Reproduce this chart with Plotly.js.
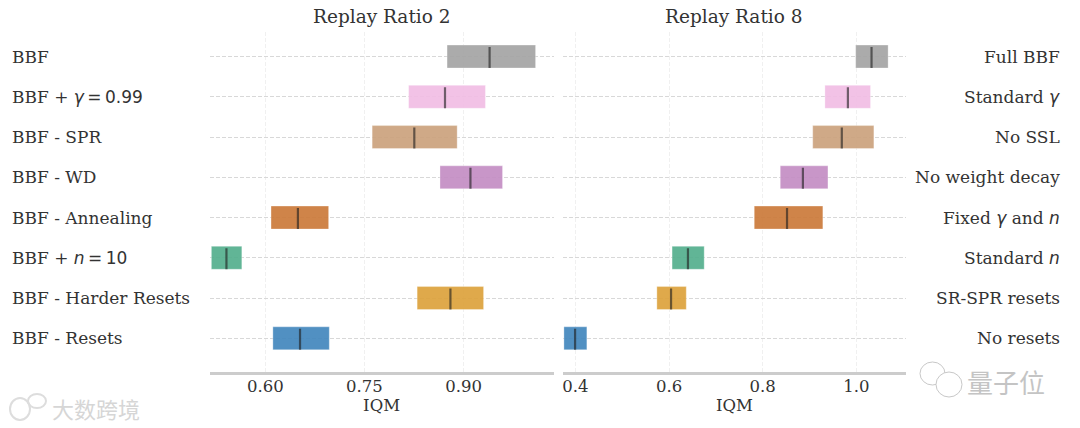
<!DOCTYPE html>
<html><head><meta charset="utf-8">
<script src="https://cdn.plot.ly/plotly-3.0.1.min.js"></script>
<style>html,body{margin:0;padding:0;background:#fff}#c{width:1080px;height:428px}</style>
</head><body><div id="c"></div>
<script>
const rows = [0,1,2,3,4,5,6,7];
const sans = t => `<span style="font-family:'DejaVu Sans'">${t}</span>`;
const leftLabels = ['BBF - Resets','BBF - Harder Resets','BBF + '+sans('<i>n</i>\u2009=\u200910'),'BBF - Annealing','BBF - WD','BBF - SPR','BBF + '+sans('<i>γ</i>\u2009=\u20090.99'),'BBF'];
const rightLabels = ['No resets','SR-SPR resets','Standard '+sans('<i>n</i>'),'Fixed '+sans('<i>γ</i>')+' and '+sans('<i>n</i>'),'No weight decay','No SSL','Standard '+sans('<i>γ</i>'),'Full BBF'];
const colors = ['rgba(66,135,189,0.92)','rgba(220,162,60,0.92)','rgba(84,175,141,0.92)','rgba(203,122,57,0.92)','rgba(195,141,195,0.92)','rgba(203,162,125,0.92)','rgba(241,189,228,0.92)','rgba(164,164,164,0.92)'];
const rr2Low  = [0.6113,0.8297,0.5182,0.6085,0.8643,0.7616,0.8168,0.8750];
const rr2High = [0.6967,0.9303,0.5643,0.6957,0.9590,0.8903,0.9331,1.0090];
const rr2Med  = [0.6524,0.8801,0.5410,0.6492,0.9104,0.8254,0.8719,0.9394];
const rr8Low  = [0.3755,0.5740,0.6065,0.7820,0.8375,0.9069,0.9329,0.9986];
const rr8High = [0.4245,0.6368,0.6751,0.9285,0.9394,1.0375,1.0303,1.0679];
const rr8Med  = [0.3993,0.6043,0.6404,0.8520,0.8859,0.9690,0.9820,1.0325];

function bars(lo,hi,xa,ya){
  return {type:'bar',orientation:'h',y:rows,x:hi.map((h,i)=>h-lo[i]),base:lo,width:0.57,
    marker:{color:colors,line:{width:1,color:'rgba(255,255,255,0.3)'}},xaxis:xa,yaxis:ya,showlegend:false,hoverinfo:'skip'};
}
function meds(m,xa,ya){
  const x=[],y=[];
  m.forEach((v,i)=>{x.push(v,v,null);y.push(rows[i]-0.285,rows[i]+0.235,null);});
  return {type:'scatter',mode:'lines',x,y,line:{color:'rgba(30,30,30,0.62)',width:2.2},xaxis:xa,yaxis:ya,showlegend:false,hoverinfo:'skip'};
}
const F='"DejaVu Serif"';
const txt='#333333';
const xax=(dom,range,vals,text)=>({domain:dom,range,tickmode:'array',tickvals:vals,ticktext:text,
  showgrid:true,gridcolor:'#f0f0f0',griddash:'4px,2px',gridwidth:1,zeroline:false,showline:true,linecolor:'#cccccc',linewidth:2.5,
  ticks:'',ticklabelstandoff:-3,tickfont:{family:F,size:16.5,color:txt},title:{text:'IQM',font:{family:F,size:16.5,color:txt},standoff:5},automargin:false});
const yax=(anchor)=>({domain:[(428-372.3)/428,(428-32)/428],range:[-0.845,7.61],anchor,tickmode:'array',tickvals:rows,
  showticklabels:false,showgrid:true,gridcolor:'#d8d8d8',griddash:'4px,2px',gridwidth:1,zeroline:false,showline:false,ticks:''});
const ann=[];
rows.forEach(i=>{
  ann.push({text:leftLabels[i],xref:'paper',yref:'y',x:10/1080,y:i,xanchor:'left',yanchor:'middle',showarrow:false,font:{family:F,size:17,color:txt}});
  ann.push({text:rightLabels[i],xref:'paper',yref:'y',x:1062/1080,y:i,xanchor:'right',yanchor:'middle',showarrow:false,font:{family:F,size:17,color:txt}});
});
ann.push({text:'Replay Ratio 2',xref:'paper',yref:'paper',x:381.5/1080,y:(428-16)/428,xanchor:'center',yanchor:'middle',showarrow:false,font:{family:F,size:18.5,color:txt}});
ann.push({text:'Replay Ratio 8',xref:'paper',yref:'paper',x:734/1080,y:(428-16)/428,xanchor:'center',yanchor:'middle',showarrow:false,font:{family:F,size:18.5,color:txt}});
ann.push({text:'量子位',xref:'paper',yref:'paper',x:1006/1080,y:(428-381)/428,xanchor:'center',yanchor:'middle',showarrow:false,font:{family:'"Noto Sans CJK SC"',size:26,color:'#c4c4c4'}});
ann.push({text:'大数跨境',xref:'paper',yref:'paper',x:96/1080,y:(428-408)/428,xanchor:'center',yanchor:'middle',showarrow:false,font:{family:'"Noto Sans CJK SC"',size:22,color:'#d6d6d6'}});
const layout={width:1080,height:428,margin:{l:0,r:0,t:0,b:0,autoexpand:false},paper_bgcolor:'#fff',plot_bgcolor:'#fff',barmode:'overlay',
  xaxis:xax([209.6/1080,553.6/1080],[0.5155,1.0363],[0.6,0.75,0.9],['0.60','0.75','0.90']),
  xaxis2:xax([562.8/1080,906/1080],[0.3731,1.1061],[0.4,0.6,0.8,1.0],['0.4','0.6','0.8','1.0']),
  yaxis:yax('x'),yaxis2:yax('x2'),annotations:ann,
  shapes:[
   {type:'circle',xref:'paper',yref:'paper',x0:920/1080,x1:945/1080,y0:(428-385)/428,y1:(428-362)/428,line:{color:'#c8c8c8',width:1},fillcolor:'rgba(255,255,255,0)'},
   {type:'circle',xref:'paper',yref:'paper',x0:936/1080,x1:962/1080,y0:(428-397)/428,y1:(428-372)/428,line:{color:'#c8c8c8',width:1},fillcolor:'#fff'},
   {type:'circle',xref:'paper',yref:'paper',x0:10/1080,x1:30/1080,y0:(428-420)/428,y1:(428-398)/428,line:{color:'#dddddd',width:2},fillcolor:'rgba(255,255,255,0)'},
   {type:'circle',xref:'paper',yref:'paper',x0:28/1080,x1:46/1080,y0:(428-408)/428,y1:(428-394)/428,line:{color:'#dddddd',width:2},fillcolor:'rgba(255,255,255,0)'}
  ]};
Plotly.newPlot('c',[bars(rr2Low,rr2High,'x','y'),meds(rr2Med,'x','y'),bars(rr8Low,rr8High,'x2','y2'),meds(rr8Med,'x2','y2')],layout,{displayModeBar:false,staticPlot:true});
</script></body></html>
